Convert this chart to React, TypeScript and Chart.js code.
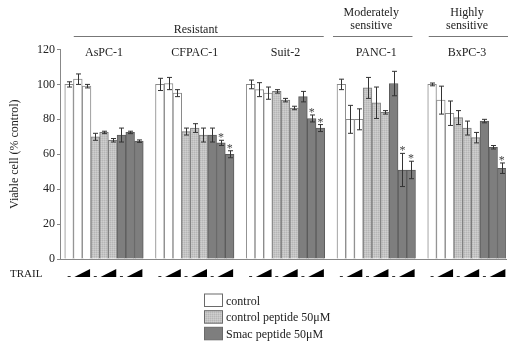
import React, { useEffect, useRef } from 'react';
import { Chart, registerables } from 'chart.js';

Chart.register(...registerables);

// ---- data ----
const cellLines = ['AsPC-1', 'CFPAC-1', 'Suit-2', 'PANC-1', 'BxPC-3'];
const treatments = ['control', 'control peptide 50μM', 'Smac peptide 50μM'];
const sensitivityGroups = ['Resistant', 'Moderately sensitive', 'Highly sensitive'];
const yTicks = [0, 20, 40, 60, 80, 100, 120];
const trailLabel = 'TRAIL';
const yTitle = 'Viable cell (% control)';

// values (% control), per TRAIL dose (none, low, high) for each treatment
const control0 = [100, 100, 100, 100, 100];
const control1 = [103, 100.5, 97, 80, 91];
const control2 = [99, 95, 95, 80, 83.5];
const peptide0 = [70, 73, 96, 98, 81];
const peptide1 = [72.5, 75, 91, 89.5, 75];
const peptide2 = [68, 71, 86.5, 84, 69.5];
const smac0 = [71, 71, 93, 100.5, 79];
const smac1 = [72.5, 66.5, 80.5, 51, 64];
const smac2 = [67.5, 60, 75, 51, 52];

const control0Err = [1.5, 3.5, 2.5, 3, 0.8];
const control1Err = [3, 3.5, 4, 8, 8];
const control2Err = [1, 2, 3.5, 6, 7];
const peptide0Err = [2, 2, 1, 6, 4];
const peptide1Err = [0.7, 2.5, 1, 9, 4];
const peptide2Err = [1, 4, 1, 1, 3];
const smac0Err = [4, 4, 3, 7, 1];
const smac1Err = [0.7, 1.5, 2, 9.5, 1];
const smac2Err = [0.7, 2, 2, 5, 3];

const smac1Sig = [false, true, true, true, false];
const smac2Sig = [false, true, true, true, true];

const series = [control0, control1, control2, peptide0, peptide1, peptide2, smac0, smac1, smac2];
const errors = [control0Err, control1Err, control2Err, peptide0Err, peptide1Err, peptide2Err, smac0Err, smac1Err, smac2Err];
const significance: (boolean[] | null)[] = [null, null, null, null, null, null, null, smac1Sig, smac2Sig];

const FONT = '"Liberation Serif", "Times New Roman", serif';
const BAR_W = 8.72;

function makePattern(): CanvasPattern | string {
  const c = document.createElement('canvas');
  c.width = 2;
  c.height = 2;
  const g = c.getContext('2d');
  if (!g) return '#c2c2c2';
  g.fillStyle = '#c4c4c4';
  g.fillRect(0, 0, 2, 2);
  g.fillStyle = '#b6b6b6';
  g.fillRect(0, 0, 1, 1);
  g.fillStyle = '#cfcfcf';
  g.fillRect(1, 1, 1, 1);
  return g.createPattern(c, 'repeat') || '#c2c2c2';
}

export default function App() {
  const ref = useRef<HTMLCanvasElement | null>(null);

  useEffect(() => {
    if (!ref.current) return;
    const pattern = makePattern();
    const fills = ['#ffffff', pattern, '#7e7e7e'];
    const borders = ['#8a8a8a', '#7a7a7a', '#5c5c5c'];

    const overlay = {
      id: 'overlay',
      afterDatasetsDraw(chart: any) {
        const ctx: CanvasRenderingContext2D = chart.ctx;
        const xs = chart.scales.x;
        const ys = chart.scales.y;
        ctx.save();
        // error bars & asterisks
        for (let di = 0; di < series.length; di++) {
          const meta = chart.getDatasetMeta(di);
          meta.data.forEach((bar: any, j: number) => {
            const v = series[di][j];
            const e = errors[di][j];
            const x = Math.round(bar.x) + 0.5;
            const yt = ys.getPixelForValue(v + e);
            const yb = ys.getPixelForValue(v - e);
            ctx.strokeStyle = '#333';
            ctx.lineWidth = 1;
            ctx.beginPath();
            ctx.moveTo(x, yt);
            ctx.lineTo(x, yb);
            ctx.moveTo(x - 2.5, yt);
            ctx.lineTo(x + 2.5, yt);
            ctx.moveTo(x - 2.5, yb);
            ctx.lineTo(x + 2.5, yb);
            ctx.stroke();
            const sig = significance[di];
            if (sig && sig[j]) {
              ctx.fillStyle = '#444';
              ctx.font = `12px ${FONT}`;
              ctx.textAlign = 'center';
              ctx.textBaseline = 'alphabetic';
              ctx.fillText('*', bar.x, yt + 1);
            }
          });
        }
        // cell line names
        ctx.fillStyle = '#222';
        ctx.font = `12px ${FONT}`;
        ctx.textAlign = 'center';
        ctx.textBaseline = 'middle';
        const half = (BAR_W * 9) / 2;
        cellLines.forEach((name, j) => {
          ctx.fillText(name, xs.getPixelForValue(j), 53);
        });
        // sensitivity headers
        const c = (j: number) => xs.getPixelForValue(j);
        const drawLine = (x1: number, x2: number) => {
          ctx.strokeStyle = '#777';
          ctx.lineWidth = 1;
          ctx.beginPath();
          ctx.moveTo(x1, 36.5);
          ctx.lineTo(x2, 36.5);
          ctx.stroke();
        };
        const r1 = c(0) - half + 9, r2 = c(2) + half - 1;
        drawLine(r1, r2);
        ctx.fillText(sensitivityGroups[0], (r1 + r2) / 2 - 3, 30);
        drawLine(c(3) - half - 4, c(3) + half - 3);
        const mod = sensitivityGroups[1].split(' ');
        ctx.fillText(mod[0], c(3) - 5, 13);
        ctx.fillText(mod[1], c(3) - 5, 26);
        drawLine(c(4) - half + 1, c(4) + half + 2);
        const hi = sensitivityGroups[2].split(' ');
        ctx.fillText(hi[0], c(4), 13);
        ctx.fillText(hi[1], c(4), 26);

        // TRAIL row
        ctx.textAlign = 'left';
        ctx.font = `11px ${FONT}`;
        ctx.fillText(trailLabel, 10, 274);
        for (let j = 0; j < cellLines.length; j++) {
          for (let g = 0; g < 3; g++) {
            const b0 = chart.getDatasetMeta(g * 3).data[j];
            const b1 = chart.getDatasetMeta(g * 3 + 1).data[j];
            const b2 = chart.getDatasetMeta(g * 3 + 2).data[j];
            ctx.strokeStyle = '#333';
            ctx.beginPath();
            ctx.moveTo(b0.x - 1.5, 276.5);
            ctx.lineTo(b0.x + 1.5, 276.5);
            ctx.stroke();
            ctx.fillStyle = '#000';
            ctx.beginPath();
            ctx.moveTo(b1.x - 3.5, 277);
            ctx.lineTo(b2.x + 3.5, 277);
            ctx.lineTo(b2.x + 3.5, 269);
            ctx.closePath();
            ctx.fill();
          }
        }

        // legend
        const boxY = [294, 310.7, 327.3];
        treatments.forEach((t, i) => {
          ctx.fillStyle = fills[i] as any;
          ctx.fillRect(204.5, boxY[i], 18, 12.5);
          ctx.strokeStyle = '#6a6a6a';
          ctx.lineWidth = 1;
          ctx.strokeRect(204.5, boxY[i], 18, 12.5);
          ctx.fillStyle = '#222';
          ctx.font = `12px ${FONT}`;
          ctx.textAlign = 'left';
          ctx.textBaseline = 'middle';
          ctx.fillText(t, 226, boxY[i] + 7.5);
        });
        ctx.restore();
      },
    };

    const datasets = series.map((vals, di) => {
      const g = Math.floor(di / 3);
      return {
        label: `${treatments[g]} ${di % 3}`,
        data: vals.map((v, j) => ({ x: j, y: v })),
        backgroundColor: fills[g] as any,
        borderColor: borders[g],
        borderWidth: 1,
        barThickness: BAR_W,
      };
    });

    const chart = new Chart(ref.current, {
      type: 'bar',
      data: { datasets },
      options: {
        responsive: false,
        animation: false,
        devicePixelRatio: 1,
        layout: { padding: { left: 8, right: 2, top: 49.5, bottom: 84 } },
        plugins: { legend: { display: false }, tooltip: { enabled: false } },
        scales: {
          x: {
            type: 'linear',
            offset: false,
            min: -0.485,
            max: 4.43,
            grid: { display: false, offset: false },
            ticks: { display: false, stepSize: 1, includeBounds: false },
            border: { display: true, color: '#888', width: 1 },
            afterFit: (s: any) => {
              s.height = 0;
            },
          },
          y: {
            min: 0,
            max: 120,
            afterBuildTicks: (s: any) => {
              s.ticks = yTicks.map((v) => ({ value: v }));
            },
            ticks: {
              color: '#222',
              padding: 2,
              font: { family: FONT, size: 12 },
            },
            grid: { drawOnChartArea: false, tickLength: 3, color: '#888' },
            border: { display: true, color: '#888', width: 1 },
            title: {
              display: true,
              text: yTitle,
              color: '#222',
              font: { family: FONT, size: 12 },
              padding: { top: 0, bottom: 0 },
            },
            afterFit: (s: any) => {
              s.width = 52;
            },
          },
        },
      },
      plugins: [overlay],
    } as any);
    return () => chart.destroy();
  }, []);

  return (
    <div style={{ position: 'absolute', left: 0, top: 0, width: 508, height: 343, background: '#fff' }}>
      <canvas ref={ref} width={508} height={343} style={{ display: 'block' }} />
    </div>
  );
}
